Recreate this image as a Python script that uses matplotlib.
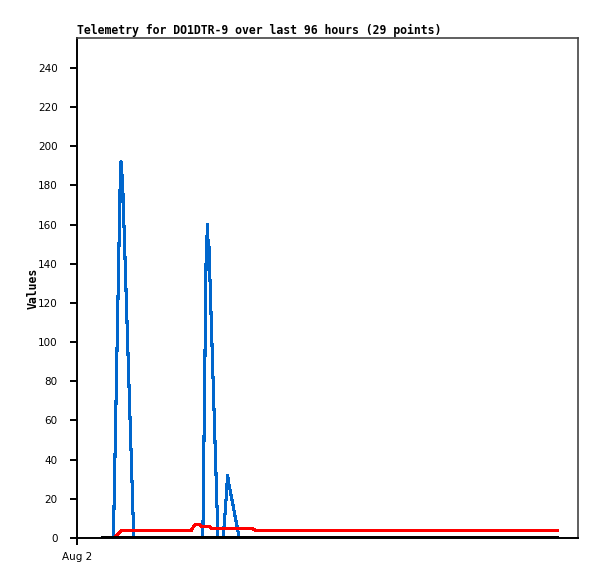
import matplotlib
matplotlib.use("Agg")
import matplotlib.pyplot as plt

# hours since Aug 2 00:00
blue_t = [5.5, 7.7, 9.1, 9.3, 9.45, 9.6, 12.0, 26.6, 27.3, 27.6, 27.75, 27.85,
          29.8, 30.9, 31.4, 31.75, 31.85, 32.0, 34.3, 101.5]
blue_v = [0, 0, 178, 192, 172, 185, 0, 0, 145, 160, 140, 152,
          0, 0, 16, 29, 32, 29, 0, 0]

red_t = [5.5, 7.8, 9.3, 24.1, 24.9, 26.0, 26.3, 28.0, 28.4, 37.1, 37.8, 101.5]
red_v = [0, 0, 3.7, 3.7, 6.8, 6.8, 5.8, 5.8, 4.8, 4.8, 3.7, 3.7]

black_t = [5.5, 101.5]
black_v = [0, 0]

y_ticks = list(range(0, 241, 20))
x_ticks = [0]
x_labels = ["Aug 2"]

fig = plt.figure(figsize=(5.97, 5.79), dpi=100)
ax = fig.add_axes([77 / 597, 41 / 579, 501 / 597, 500 / 579])

ax.plot(blue_t, blue_v, color="#0066cc", lw=1.5, antialiased=False)
ax.plot(red_t, red_v, color="#ff0000", lw=1.5, antialiased=False)
ax.plot(black_t, black_v, color="black", lw=1.5, antialiased=False)

ax.set_xlim(0, 105.9)
ax.set_ylim(0, 255.3)
ax.set_yticks(y_ticks)
ax.set_xticks(x_ticks)
ax.set_xticklabels(x_labels)
ax.tick_params(direction="out", length=5, width=1.4, labelsize=7.5)
ax.tick_params(axis="x", pad=5)
ax.tick_params(axis="y", pad=9)

for side in ["left", "bottom"]:
    ax.spines[side].set_color("black")
    ax.spines[side].set_linewidth(1.4)
for side in ["top", "right"]:
    ax.spines[side].set_color("#444444")
    ax.spines[side].set_linewidth(1.2)

ax.set_title("Telemetry for DO1DTR-9 over last 96 hours (29 points)",
             loc="left", fontsize=8.3, fontweight="bold",
             family="DejaVu Sans Mono", pad=3)
ax.set_ylabel("Values", fontsize=8.3, fontweight="bold",
              family="DejaVu Sans Mono", labelpad=-1)

fig.savefig("out.png", dpi=100)
